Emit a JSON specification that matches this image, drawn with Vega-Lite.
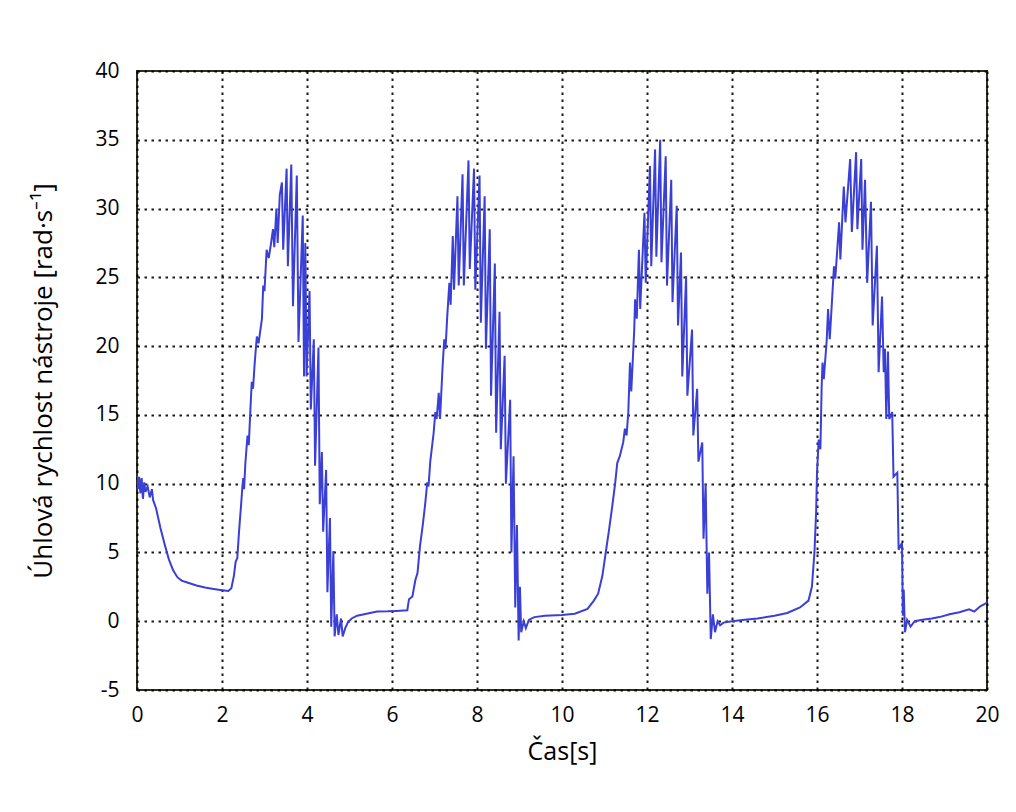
{
  "$schema": "https://vega.github.io/schema/vega-lite/v6.json",
  "width": 850,
  "height": 619,
  "autosize": {"type": "none"},
  "padding": {"left": 137, "top": 71, "right": 29, "bottom": 122},
  "background": "white",
  "config": {
    "view": {"stroke": "#2e2e22", "strokeWidth": 2},
    "font": "Open Sans"
  },
  "data": {
    "values": [
      {"t": 0.00, "v": 10.6}, {"t": 0.03, "v": 9.6}, {"t": 0.05, "v": 10.5}, {"t": 0.08, "v": 9.3},
      {"t": 0.11, "v": 10.4}, {"t": 0.14, "v": 8.9}, {"t": 0.17, "v": 10.1}, {"t": 0.20, "v": 9.4},
      {"t": 0.25, "v": 9.8}, {"t": 0.30, "v": 9.0}, {"t": 0.35, "v": 9.6}, {"t": 0.38, "v": 8.8},
      {"t": 0.45, "v": 8.2}, {"t": 0.55, "v": 6.8}, {"t": 0.65, "v": 5.6}, {"t": 0.75, "v": 4.5},
      {"t": 0.85, "v": 3.7}, {"t": 0.95, "v": 3.2}, {"t": 1.05, "v": 2.95}, {"t": 1.2, "v": 2.8},
      {"t": 1.4, "v": 2.6}, {"t": 1.6, "v": 2.45}, {"t": 1.8, "v": 2.35}, {"t": 2.0, "v": 2.25},
      {"t": 2.15, "v": 2.2}, {"t": 2.22, "v": 2.4}, {"t": 2.28, "v": 3.3}, {"t": 2.32, "v": 4.3},
      {"t": 2.36, "v": 4.6}, {"t": 2.4, "v": 6.5}, {"t": 2.45, "v": 8.5}, {"t": 2.48, "v": 9.8},
      {"t": 2.5, "v": 10.4}, {"t": 2.52, "v": 9.6}, {"t": 2.55, "v": 11.5}, {"t": 2.6, "v": 13.5},
      {"t": 2.63, "v": 12.8}, {"t": 2.67, "v": 15.5}, {"t": 2.7, "v": 17.4}, {"t": 2.73, "v": 16.9},
      {"t": 2.77, "v": 18.8}, {"t": 2.82, "v": 20.7}, {"t": 2.86, "v": 20.2}, {"t": 2.94, "v": 22.0},
      {"t": 2.97, "v": 24.4}, {"t": 3.0, "v": 24.0}, {"t": 3.05, "v": 27.0}, {"t": 3.1, "v": 26.4},
      {"t": 3.15, "v": 27.4}, {"t": 3.2, "v": 28.5}, {"t": 3.23, "v": 27.2}, {"t": 3.28, "v": 30.0},
      {"t": 3.31, "v": 27.5}, {"t": 3.36, "v": 31.0}, {"t": 3.41, "v": 31.9}, {"t": 3.44, "v": 27.0},
      {"t": 3.52, "v": 32.9}, {"t": 3.55, "v": 25.8}, {"t": 3.63, "v": 33.2}, {"t": 3.67, "v": 22.9},
      {"t": 3.76, "v": 32.4}, {"t": 3.80, "v": 20.3}, {"t": 3.9, "v": 29.5}, {"t": 3.93, "v": 17.8},
      {"t": 3.96, "v": 27.5}, {"t": 3.99, "v": 17.8}, {"t": 4.06, "v": 24.0}, {"t": 4.09, "v": 15.4},
      {"t": 4.16, "v": 20.5}, {"t": 4.19, "v": 11.3}, {"t": 4.27, "v": 19.9}, {"t": 4.30, "v": 8.5},
      {"t": 4.35, "v": 12.3}, {"t": 4.38, "v": 6.5}, {"t": 4.45, "v": 11.0}, {"t": 4.48, "v": 2.1},
      {"t": 4.54, "v": 7.5}, {"t": 4.57, "v": -0.4}, {"t": 4.62, "v": 5.1}, {"t": 4.65, "v": -1.1},
      {"t": 4.7, "v": 0.5}, {"t": 4.74, "v": -1.0}, {"t": 4.8, "v": 0.2}, {"t": 4.84, "v": -1.1},
      {"t": 4.9, "v": -0.5}, {"t": 4.96, "v": -0.1}, {"t": 5.05, "v": 0.2}, {"t": 5.18, "v": 0.4},
      {"t": 5.4, "v": 0.55}, {"t": 5.65, "v": 0.7}, {"t": 5.9, "v": 0.72}, {"t": 6.1, "v": 0.75},
      {"t": 6.36, "v": 0.8}, {"t": 6.4, "v": 1.6}, {"t": 6.48, "v": 1.8}, {"t": 6.55, "v": 3.0},
      {"t": 6.6, "v": 3.5}, {"t": 6.66, "v": 5.5}, {"t": 6.72, "v": 6.9}, {"t": 6.78, "v": 8.5},
      {"t": 6.83, "v": 10.1}, {"t": 6.86, "v": 9.8}, {"t": 6.9, "v": 11.6}, {"t": 6.98, "v": 13.7},
      {"t": 7.02, "v": 15.2}, {"t": 7.05, "v": 14.7}, {"t": 7.1, "v": 16.6}, {"t": 7.13, "v": 14.7},
      {"t": 7.19, "v": 18.5}, {"t": 7.23, "v": 20.5}, {"t": 7.26, "v": 19.8}, {"t": 7.3, "v": 22.2},
      {"t": 7.35, "v": 24.6}, {"t": 7.38, "v": 23.0}, {"t": 7.43, "v": 28.0}, {"t": 7.46, "v": 24.1},
      {"t": 7.54, "v": 30.9}, {"t": 7.57, "v": 24.4}, {"t": 7.66, "v": 32.5}, {"t": 7.69, "v": 24.4},
      {"t": 7.8, "v": 33.5}, {"t": 7.83, "v": 25.6}, {"t": 7.93, "v": 32.9}, {"t": 7.96, "v": 24.1},
      {"t": 8.06, "v": 32.4}, {"t": 8.09, "v": 21.7}, {"t": 8.18, "v": 30.9}, {"t": 8.21, "v": 19.8},
      {"t": 8.3, "v": 28.5}, {"t": 8.33, "v": 16.4}, {"t": 8.42, "v": 26.0}, {"t": 8.45, "v": 13.7},
      {"t": 8.53, "v": 22.5}, {"t": 8.56, "v": 12.5}, {"t": 8.65, "v": 19.3}, {"t": 8.68, "v": 10.0},
      {"t": 8.78, "v": 16.1}, {"t": 8.81, "v": 5.0}, {"t": 8.86, "v": 12.0}, {"t": 8.9, "v": 1.0},
      {"t": 8.94, "v": 7.0}, {"t": 8.98, "v": -1.4}, {"t": 9.01, "v": 2.5}, {"t": 9.04, "v": -0.8},
      {"t": 9.1, "v": 0.0}, {"t": 9.15, "v": -0.5}, {"t": 9.22, "v": 0.1}, {"t": 9.35, "v": 0.3},
      {"t": 9.6, "v": 0.4}, {"t": 10.0, "v": 0.45}, {"t": 10.3, "v": 0.55}, {"t": 10.6, "v": 0.9},
      {"t": 10.75, "v": 1.5}, {"t": 10.85, "v": 2.0}, {"t": 10.95, "v": 3.3}, {"t": 11.03, "v": 5.0},
      {"t": 11.1, "v": 6.5}, {"t": 11.18, "v": 8.3}, {"t": 11.25, "v": 10.0}, {"t": 11.3, "v": 11.5},
      {"t": 11.36, "v": 12.0}, {"t": 11.44, "v": 13.0}, {"t": 11.48, "v": 14.0}, {"t": 11.52, "v": 13.5},
      {"t": 11.56, "v": 15.2}, {"t": 11.6, "v": 18.8}, {"t": 11.63, "v": 16.7}, {"t": 11.7, "v": 21.2},
      {"t": 11.72, "v": 23.4}, {"t": 11.76, "v": 22.0}, {"t": 11.79, "v": 25.1}, {"t": 11.81, "v": 27.0},
      {"t": 11.84, "v": 22.7}, {"t": 11.94, "v": 29.7}, {"t": 11.97, "v": 24.6}, {"t": 12.07, "v": 33.1},
      {"t": 12.10, "v": 25.8}, {"t": 12.19, "v": 34.3}, {"t": 12.22, "v": 26.5}, {"t": 12.31, "v": 35.0},
      {"t": 12.34, "v": 26.1}, {"t": 12.44, "v": 33.8}, {"t": 12.47, "v": 24.4}, {"t": 12.57, "v": 32.1},
      {"t": 12.6, "v": 23.2}, {"t": 12.7, "v": 30.2}, {"t": 12.73, "v": 21.5}, {"t": 12.8, "v": 26.8},
      {"t": 12.83, "v": 17.8}, {"t": 12.92, "v": 25.1}, {"t": 12.95, "v": 16.4}, {"t": 13.06, "v": 21.2},
      {"t": 13.09, "v": 13.5}, {"t": 13.18, "v": 16.9}, {"t": 13.21, "v": 11.6}, {"t": 13.3, "v": 13.0},
      {"t": 13.33, "v": 6.0}, {"t": 13.38, "v": 10.0}, {"t": 13.42, "v": 2.0}, {"t": 13.46, "v": 5.0},
      {"t": 13.5, "v": -1.3}, {"t": 13.55, "v": 0.5}, {"t": 13.6, "v": -0.8}, {"t": 13.66, "v": 0.0},
      {"t": 13.72, "v": -0.3}, {"t": 13.8, "v": -0.1}, {"t": 14.0, "v": 0.0}, {"t": 14.3, "v": 0.1},
      {"t": 14.6, "v": 0.2}, {"t": 15.0, "v": 0.4}, {"t": 15.3, "v": 0.6}, {"t": 15.6, "v": 1.0},
      {"t": 15.8, "v": 1.5}, {"t": 15.88, "v": 2.5}, {"t": 15.94, "v": 5.0}, {"t": 15.98, "v": 8.0},
      {"t": 16.0, "v": 10.8}, {"t": 16.04, "v": 13.2}, {"t": 16.08, "v": 12.5}, {"t": 16.11, "v": 17.1},
      {"t": 16.13, "v": 18.8}, {"t": 16.16, "v": 17.6}, {"t": 16.23, "v": 20.5}, {"t": 16.26, "v": 22.7},
      {"t": 16.3, "v": 20.5}, {"t": 16.4, "v": 25.8}, {"t": 16.43, "v": 24.9}, {"t": 16.52, "v": 29.0},
      {"t": 16.55, "v": 26.3}, {"t": 16.63, "v": 31.6}, {"t": 16.67, "v": 29.0}, {"t": 16.78, "v": 33.6},
      {"t": 16.82, "v": 28.3}, {"t": 16.92, "v": 34.1}, {"t": 16.95, "v": 28.5}, {"t": 17.04, "v": 33.6},
      {"t": 17.07, "v": 27.0}, {"t": 17.13, "v": 32.1}, {"t": 17.18, "v": 24.6}, {"t": 17.27, "v": 30.5},
      {"t": 17.31, "v": 21.5}, {"t": 17.41, "v": 27.3}, {"t": 17.45, "v": 18.1}, {"t": 17.53, "v": 23.6},
      {"t": 17.57, "v": 18.1}, {"t": 17.60, "v": 19.8}, {"t": 17.63, "v": 14.7}, {"t": 17.67, "v": 19.6},
      {"t": 17.7, "v": 14.7}, {"t": 17.77, "v": 15.2}, {"t": 17.8, "v": 10.5}, {"t": 17.89, "v": 10.8},
      {"t": 17.92, "v": 5.2}, {"t": 18.0, "v": 5.7}, {"t": 18.02, "v": 0.4}, {"t": 18.04, "v": 2.3},
      {"t": 18.07, "v": -0.8}, {"t": 18.12, "v": 0.1}, {"t": 18.2, "v": -0.4}, {"t": 18.3, "v": 0.0},
      {"t": 18.48, "v": 0.1}, {"t": 18.7, "v": 0.2}, {"t": 18.88, "v": 0.3}, {"t": 19.12, "v": 0.5},
      {"t": 19.35, "v": 0.65}, {"t": 19.58, "v": 0.87}, {"t": 19.7, "v": 0.7}, {"t": 19.85, "v": 1.1},
      {"t": 19.94, "v": 1.25}, {"t": 20.0, "v": 1.35}
    ]
  },
  "mark": {"type": "line", "color": "#3a3fd6", "strokeWidth": 2, "clip": true},
  "encoding": {
    "x": {
      "field": "t", "type": "quantitative",
      "scale": {"domain": [0, 20], "nice": false, "zero": false},
      "axis": {
        "title": "Čas[s]", "values": [0, 2, 4, 6, 8, 10, 12, 14, 16, 18, 20],
        "grid": true, "gridColor": "#000000", "gridDash": [2.5, 4.5], "gridWidth": 2, "gridOpacity": 0.9,
        "domain": false, "ticks": false, "labelPadding": 14, "labelFlush": false,
        "labelFontSize": 21, "labelColor": "#000000", "labelFont": "Open Sans",
        "titleFontSize": 25, "titleColor": "#000000", "titleFont": "Open Sans", "titleFontWeight": "normal",
        "titlePadding": 14
      }
    },
    "y": {
      "field": "v", "type": "quantitative",
      "scale": {"domain": [-5, 40], "nice": false, "zero": false},
      "axis": {
        "title": "Úhlová rychlost nástroje [rad·s⁻¹]", "values": [-5, 0, 5, 10, 15, 20, 25, 30, 35, 40],
        "labelExpr": "toString(datum.value)",
        "grid": true, "gridColor": "#000000", "gridDash": [2.5, 4.5], "gridWidth": 2, "gridOpacity": 0.9,
        "domain": false, "ticks": false, "labelPadding": 18, "labelFlush": false,
        "labelFontSize": 21, "labelColor": "#000000", "labelFont": "Open Sans",
        "titleFontSize": 26, "titleColor": "#000000", "titleFont": "Open Sans", "titleFontWeight": "normal",
        "titlePadding": 38
      }
    }
  }
}
